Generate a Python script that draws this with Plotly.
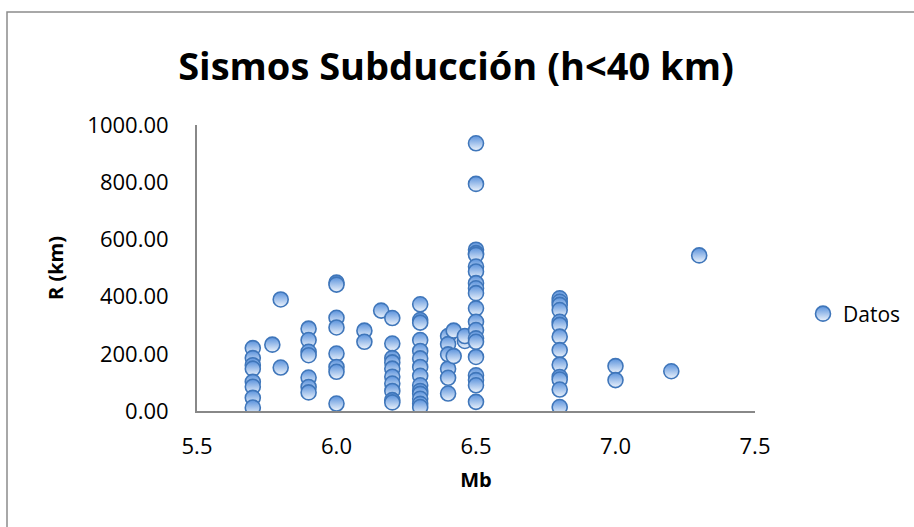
import plotly.graph_objects as go

# Data (Mb vs R)
mb_57 = [220, 185, 160, 148, 102, 85, 46, 12]
mb_577 = [232]
mb_58 = [390, 152]
mb_59 = [288, 248, 207, 195, 117, 84, 65]
mb_60 = [449, 442, 326, 292, 201, 154, 137, 26]
mb_61 = [281, 242]
mb_616 = [351]
mb_62 = [325, 236, 185, 170, 148, 120, 96, 70, 38, 30]
mb_63 = [373, 318, 309, 248, 210, 184, 154, 123, 90, 70, 60, 43, 25, 14]
mb_64 = [262, 234, 198, 148, 116, 61]
mb_642 = [281, 192]
mb_646 = [245, 262]
mb_65 = [936, 794, 564, 552, 546, 505, 488, 447, 429, 412, 359, 312, 283, 254, 242, 189, 125, 108, 90, 32]
mb_68 = [394, 382, 371, 353, 312, 301, 260, 213, 162, 119, 110, 75, 14]
mb_70 = [157, 108]
mb_72 = [139]
mb_73 = [544]

groups = [
    (5.7, mb_57), (5.77, mb_577), (5.8, mb_58), (5.9, mb_59), (6.0, mb_60),
    (6.1, mb_61), (6.16, mb_616), (6.2, mb_62), (6.3, mb_63), (6.4, mb_64),
    (6.42, mb_642), (6.46, mb_646), (6.5, mb_65), (6.8, mb_68), (7.0, mb_70),
    (7.2, mb_72), (7.3, mb_73),
]

xs, ys = [], []
for m, rs in groups:
    for r in rs:
        xs.append(m)
        ys.append(r)

W, H = 914, 527
L, R, T, B = 197, 159, 125, 116
pw, ph = W - L - R, H - T - B

fig = go.Figure()
fig.add_trace(go.Scatter(
    x=xs, y=ys, mode="markers", name="Datos",
    marker=dict(size=15, color="#5a92dc",
                gradient=dict(type="vertical", color="#eef4fc"),
                line=dict(color="#3f76ba", width=1.6)),
))

font_family = "Open Sans, Liberation Sans, sans-serif"

fig.update_layout(
    width=W, height=H,
    margin=dict(l=L, r=R, t=T, b=B, autoexpand=False),
    paper_bgcolor="white", plot_bgcolor="white",
    showlegend=True,
    title=dict(text="<b>Sismos Subducción (h<40 km)</b>",
               font=dict(family=font_family, size=38, color="black"),
               x=456 / W, xanchor="center", y=1 - 67 / H, yanchor="middle"),
    xaxis=dict(range=[5.5, 7.5], tickvals=[5.5, 6.0, 6.5, 7.0, 7.5],
               ticktext=["5.5", "6.0", "6.5", "7.0", "7.5"],
               showgrid=False, zeroline=False, showline=True,
               linecolor="#888888", linewidth=2,
               ticks="outside", ticklen=15, tickcolor="rgba(0,0,0,0)",
               tickfont=dict(family=font_family, size=22, color="black"),
               title=dict(text="<b>Mb</b>", standoff=14,
                          font=dict(family=font_family, size=20, color="black"))),
    yaxis=dict(range=[0, 1000], tickvals=[0, 200, 400, 600, 800, 1000],
               tickformat=".2f",
               showgrid=False, zeroline=False, showline=True,
               linecolor="#888888", linewidth=2,
               ticks="outside", ticklen=22, tickcolor="rgba(0,0,0,0)",
               tickfont=dict(family=font_family, size=22, color="black"),
               title=dict(text="<b>R (km)</b>", standoff=18,
                          font=dict(family=font_family, size=20, color="black"))),
    legend=dict(x=(803 - L) / pw, y=(H - B - 314) / ph, xanchor="left", yanchor="middle",
                font=dict(family=font_family, size=21, color="black"),
                bgcolor="rgba(0,0,0,0)"),
)

# Chart-area border
fig.add_shape(type="rect", xref="paper", yref="paper",
              x0=(7 - L) / pw, x1=(W + 5 - L) / pw,
              y0=(H - B - (H + 5)) / ph, y1=(H - B - 12) / ph,
              line=dict(color="#8c8c8c", width=1.5), fillcolor="rgba(0,0,0,0)",
              layer="below")

fig.write_html("out.html")
